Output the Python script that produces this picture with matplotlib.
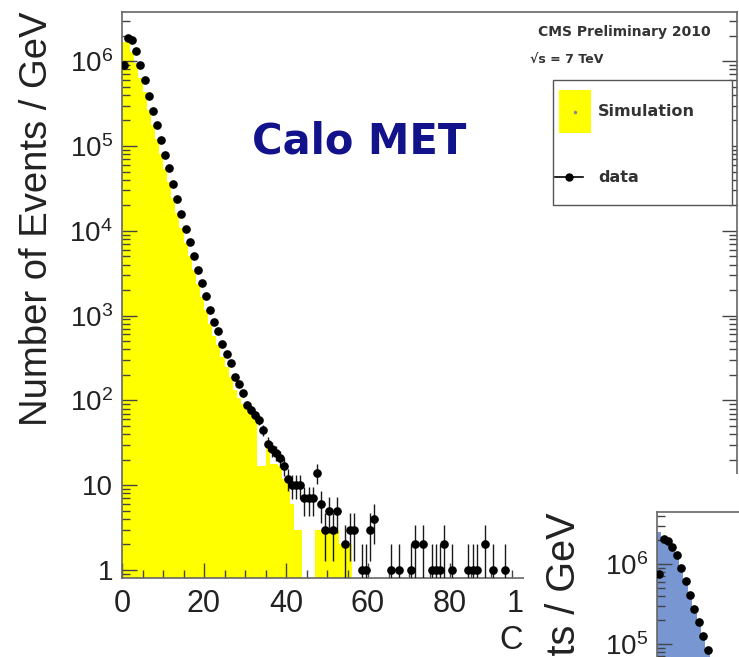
import numpy as np
import matplotlib
matplotlib.use('Agg')
import matplotlib.pyplot as plt
from matplotlib.patches import Rectangle
from matplotlib.lines import Line2D
from matplotlib.ticker import LogLocator, NullFormatter, MultipleLocator

# ---------------- data ----------------
bin_width = 1.0  # GeV
data_counts = [
    9.0e5, 1.88e6, 1.78e6, 1.32e6, 9.0e5, 6.0e5, 3.9e5, 2.6e5, 1.77e5, 1.18e5,
    7.8e4, 5.5e4, 3.56e4, 2.37e4, 1.58e4, 1.05e4, 7.4e3, 5.0e3, 3.46e3, 2.4e3,
    1.7e3, 1.17e3, 840, 660, 465, 355, 277, 190, 155, 122,
    88, 77, 67, 59, 45, 31, 27, 24, 21, 17,
    12, 10, 10, 10, 7, 7, 7, 14, 6, 3,
    5, 3, 5, 0, 2, 3, 3, 0, 1, 1,
    3, 4, 0, 0, 0, 1, 0, 1, 0, 0,
    1, 2, 0, 2, 0, 1, 1, 1, 2, 0,
    1, 0, 0, 0, 1, 1, 1, 0, 2, 0,
    1, 0, 0, 1, 0, 0, 0, 0, 0, 0,
]
sim_counts = [
    1.7e6, 1.75e6, 1.3e6, 9.5e5, 6.3e5, 4.3e5, 2.69e5, 1.79e5, 1.22e5, 8.1e4,
    5.4e4, 3.8e4, 2.46e4, 1.63e4, 1.09e4, 7.2e3, 5.1e3, 3.45e3, 2.39e3, 1.66e3,
    1.17e3, 807, 579, 455, 321, 245, 191, 131, 107, 90,
    85, 75, 65, 17, 17, 30, 18, 18, 17, 12,
    11, 6, 3, 3, 0, 0, 0, 3, 3, 3,
    3, 3, 3, 2, 2, 2,
]
# second (partly hidden) plot in the lower right corner
inset_data = [7.5e5, 2.05e6, 1.94e6, 1.63e6, 1.3e6, 8.9e5, 6.1e5, 4.1e5,
              2.7e5, 1.9e5, 1.26e5, 8.4e4, 5.6e4, 3.8e4, 2.6e4]
inset_sim = [2.5e6, 2.2e6, 1.9e6, 1.55e6, 1.2e6, 8.3e5, 5.7e5, 3.8e5,
             2.5e5, 1.75e5, 1.15e5, 7.7e4, 5.1e4, 3.5e4, 2.4e4]

xtick_vals = [0, 20, 40, 60, 80, 100, 120, 140]
xtick_labels = ['0', '20', '40', '60', '80', '100', '120', '140']
ytick_vals = [1, 10, 1e2, 1e3, 1e4, 1e5, 1e6]
ytick_labels = ['1', '10', r'$10^{2}$', r'$10^{3}$', r'$10^{4}$',
                r'$10^{5}$', r'$10^{6}$']

title_text = 'Calo MET'
ylabel_text = 'Number of Events / GeV'
xlabel_text = 'Calo MET [GeV]'
legend_labels = ['Simulation', 'data']

# ---------------- style ----------------
plt.rcParams['font.family'] = ['Liberation Sans', 'DejaVu Sans']
plt.rcParams['mathtext.fontset'] = 'custom'
plt.rcParams['mathtext.rm'] = 'Liberation Sans'
plt.rcParams['mathtext.it'] = 'Liberation Sans:italic'
plt.rcParams['mathtext.bf'] = 'Liberation Sans:bold'

W, H = 739, 657
TXT = '#222222'
FRAME = '#666666'
YELLOW = '#ffff00'
BLUE = '#7896d2'

fig = plt.figure(figsize=(W / 100, H / 100), dpi=100)


def frect(l, t, r, b):
    return [l / W, 1 - b / H, (r - l) / W, (b - t) / H]


def fx(px):
    return px / W


def fy(py):
    return 1 - py / H


def style_axes(a, xfs=22, yfs=20):
    for s in a.spines.values():
        s.set_color(FRAME)
        s.set_linewidth(1.2)
    a.tick_params(which='both', direction='in', left=True, right=True,
                  top=False, bottom=True, colors='#444444', labelcolor=TXT)
    a.tick_params(which='major', length=11, width=1.0)
    a.tick_params(which='minor', length=5.8, width=1.0)
    a.tick_params(axis='x', labelsize=xfs, pad=8)
    a.tick_params(axis='y', labelsize=yfs, pad=6.5)


# ---------------- main plot ----------------
ax = fig.add_axes(frect(122, 12, 737, 578))
ax.set_yscale('log')
ax.set_xlim(0, 150)
ax.set_ylim(10 ** -0.094, 10 ** 6.58)

sim = np.asarray(sim_counts, float)
sim_edges = np.arange(len(sim) + 1) * bin_width
ax.stairs(sim, sim_edges, fill=True, color=YELLOW, baseline=1e-3, zorder=1)

d = np.asarray(data_counts, float)
centers = (np.arange(len(d)) + 0.5) * bin_width
m = d > 0
err_up = np.sqrt(d[m])
err_lo = np.minimum(np.sqrt(d[m]), d[m] * 0.999)
ax.errorbar(centers[m], d[m], xerr=bin_width / 2, yerr=[err_lo, err_up],
            fmt='o', ms=5.2, color='black', ecolor='#1a1a1a',
            elinewidth=1.0, capsize=0, zorder=3)

ax.set_xticks(xtick_vals, xtick_labels)
ax.xaxis.set_minor_locator(MultipleLocator(5))
ax.set_yticks(ytick_vals, ytick_labels)
ax.yaxis.set_minor_locator(LogLocator(base=10, subs=np.arange(2, 10)))
ax.yaxis.set_minor_formatter(NullFormatter())
style_axes(ax)

ax.set_ylabel(ylabel_text, fontsize=27.5, color=TXT, loc='top')
ax.yaxis.set_label_coords((55 - 122) / 615, 1.0)
ax.set_xlabel(xlabel_text, fontsize=23.5, color=TXT, loc='right')
ax.xaxis.set_label_coords(1.0, (578 - 625) / 566)

# title and CMS labels
fig.text(fx(359), fy(153), title_text, color='#12128a', fontsize=30,
         fontweight='bold', family='DejaVu Sans', ha='center', va='baseline')
fig.text(fx(538), fy(36), 'CMS Preliminary 2010', color='#333333', fontsize=10,
         fontweight='bold', family='DejaVu Sans', ha='left', va='baseline')
fig.text(fx(530), fy(64), '\u221as = 7 TeV', color='#333333', fontsize=9,
         fontweight='bold', family='DejaVu Sans', ha='left', va='baseline')

# legend box
fig.add_artist(Rectangle((fx(553), fy(205)), (732 - 553) / W, (205 - 80) / H,
                         transform=fig.transFigure, facecolor='white',
                         edgecolor='#555555', lw=1.0, zorder=3))
fig.add_artist(Rectangle((fx(559), fy(133)), 32 / W, 43 / H,
                         transform=fig.transFigure, facecolor=YELLOW,
                         edgecolor='none', zorder=4))
fig.add_artist(Line2D([fx(575)], [fy(112)], marker='o', ms=1.5, color='#888888',
                      transform=fig.transFigure, zorder=5))
fig.add_artist(Line2D([fx(555), fx(583)], [fy(177), fy(177)], color='black',
                      lw=1.2, transform=fig.transFigure, zorder=5))
fig.add_artist(Line2D([fx(569)], [fy(177)], marker='o', ms=5, color='black',
                      transform=fig.transFigure, zorder=5))
fig.text(fx(598), fy(112), legend_labels[0], color='#333333', fontsize=11.5,
         fontweight='bold', family='DejaVu Sans', ha='left', va='center', zorder=5)
fig.text(fx(598), fy(177), legend_labels[1], color='#333333', fontsize=11.5,
         fontweight='bold', family='DejaVu Sans', ha='left', va='center', zorder=5)

# white cover of the overlapping slide
fig.add_artist(Rectangle((fx(524), 0), (W - 524) / W, (H - 474) / H,
                         transform=fig.transFigure, facecolor='white',
                         edgecolor='none', zorder=5))

# ---------------- second plot (bottom right, partly visible) ----------------
ax2 = fig.add_axes(frect(657, 512, 657 + 615, 512 + 566))
ax2.set_zorder(6)
ax2.set_yscale('log')
ax2.set_xlim(0, 134)
ax2.set_ylim(10 ** (6.65 - 566 / 80), 10 ** 6.65)
isim = np.asarray(inset_sim, float)
ax2.stairs(isim, np.arange(len(isim) + 1) * bin_width, fill=True, color=BLUE,
           baseline=1e-3, zorder=1)
idat = np.asarray(inset_data, float)
ax2.errorbar((np.arange(len(idat)) + 0.5) * bin_width, idat,
             xerr=bin_width / 2, yerr=np.sqrt(idat), fmt='o', ms=5.2,
             color='black', elinewidth=1.0, capsize=0, zorder=3)
ax2.set_xticks(xtick_vals, xtick_labels)
ax2.xaxis.set_minor_locator(MultipleLocator(5))
ax2.set_yticks(ytick_vals, ytick_labels)
ax2.yaxis.set_minor_locator(LogLocator(base=10, subs=np.arange(2, 10)))
ax2.yaxis.set_minor_formatter(NullFormatter())
style_axes(ax2)
ax2.set_ylabel(ylabel_text, fontsize=28.5, color=TXT, loc='top')
ax2.yaxis.set_label_coords((583 - 657) / 615, 1.0)

fig.savefig('out.png', dpi=100)
